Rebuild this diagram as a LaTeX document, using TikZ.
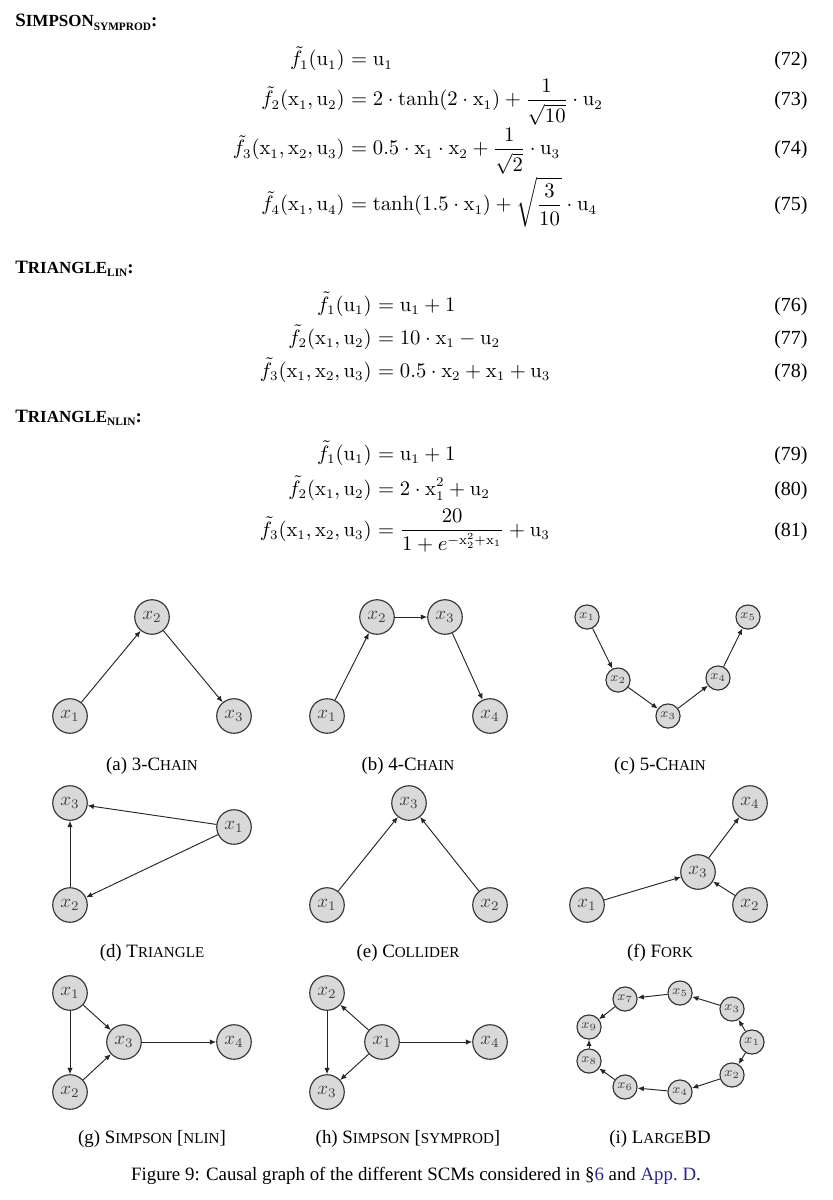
\documentclass[tikz,border=0pt]{standalone}
\usepackage{amsmath}
\usepackage[no-math]{fontspec}
\setmainfont{Liberation Serif}
\usepackage{tikz}
\usetikzlibrary{arrows.meta}
\definecolor{linkblue}{RGB}{40,40,150}
\newcommand{\ru}[1]{\mathrm{u}_{#1}}
\newcommand{\rx}[1]{\mathrm{x}_{#1}}
\newcommand{\fsc}[2]{#1{\footnotesize #2}}
\newcommand{\subsc}[1]{\raisebox{-0.45ex}{\fontsize{6}{7}\selectfont #1}}
% one numbered equation, aligned at the = sign
\newcommand{\eqrow}[6]{%
  \node[eqside, anchor=base east] (#1l) at (#2,#3) {$\displaystyle #4$};
  \node[eqside, anchor=base west] (#1r) at (#2,#3) {$\displaystyle {}= #5$};
  \node[eqside, anchor=base east] (#1n) at (808,#3) {(#6)};}

\begin{document}
\begin{tikzpicture}[
  x=0.53pt, y=-0.53pt,
  var/.style={circle, draw=black!80, fill=gray!30, semithick, minimum size=18.3pt, inner sep=0pt, text=black!75},
  svar/.style={var, minimum size=12.8pt, font=\scriptsize},
  arr/.style={-{Latex[length=3.3pt,width=2.8pt]}, black!85, line width=0.5pt},
  eqside/.style={inner sep=0pt, font=\fontsize{10.6}{12}\selectfont},
  subcap/.style={anchor=base, inner sep=0pt},
  head/.style={anchor=base west, inner sep=0pt, font=\bfseries}
]
\useasboundingbox (0,0) rectangle (832,1200);

% Equations
\node[head] (hsym) at (15,27) {S{\small IMPSON}\subsc{SYMPROD}:};
\eqrow{e72}{345}{66}{\tilde{f}_1(\ru1)}{\ru1}{72}
\eqrow{e73}{345}{106}{\tilde{f}_2(\rx1,\ru2)}{2\cdot\tanh(2\cdot\rx1)+\frac{1}{\sqrt{10}}\cdot\ru2}{73}
\eqrow{e74}{345}{155}{\tilde{f}_3(\rx1,\rx2,\ru3)}{0.5\cdot\rx1\cdot\rx2+\frac{1}{\sqrt{2}}\cdot\ru3}{74}
\eqrow{e75}{345}{211}{\tilde{f}_4(\rx1,\ru4)}{\tanh(1.5\cdot\rx1)+\sqrt{\frac{3}{10}}\cdot\ru4}{75}

\node[head] (hlin) at (15,273) {T{\small RIANGLE}\subsc{LIN}:};
\eqrow{e76}{372}{311}{\tilde{f}_1(\ru1)}{\ru1+1}{76}
\eqrow{e77}{372}{344}{\tilde{f}_2(\rx1,\ru2)}{10\cdot\rx1-\ru2}{77}
\eqrow{e78}{372}{377}{\tilde{f}_3(\rx1,\rx2,\ru3)}{0.5\cdot\rx2+\rx1+\ru3}{78}

\node[head] (hnlin) at (15,422) {T{\small RIANGLE}\subsc{NLIN}:};
\eqrow{e79}{372}{460}{\tilde{f}_1(\ru1)}{\ru1+1}{79}
\eqrow{e80}{372}{495}{\tilde{f}_2(\rx1,\ru2)}{2\cdot\rx1^2+\ru2}{80}
\eqrow{e81}{372}{536}{\tilde{f}_3(\rx1,\rx2,\ru3)}{\frac{20}{1+e^{-\rx2^2+\rx1}}+\ru3}{81}

% (a) 3-Chain
\node[var] (a1) at (70,716) {$x_1$};
\node[var] (a2) at (152,617) {$x_2$};
\node[var] (a3) at (234,716) {$x_3$};
\node[subcap] (capa) at (152,770) {(a) 3-\fsc{C}{HAIN}};

% (b) 4-Chain
\node[var] (b1) at (327,716) {$x_1$};
\node[var] (b2) at (377,617) {$x_2$};
\node[var] (b3) at (445,617) {$x_3$};
\node[var] (b4) at (490,716) {$x_4$};
\node[subcap] (capb) at (408,770) {(b) 4-\fsc{C}{HAIN}};

% (c) 5-Chain
\node[svar] (c1) at (587,617) {$x_1$};
\node[svar] (c2) at (618,680) {$x_2$};
\node[svar] (c3) at (668,716) {$x_3$};
\node[svar] (c4) at (718,678) {$x_4$};
\node[svar] (c5) at (748,617) {$x_5$};
\node[subcap] (capc) at (660,770) {(c) 5-\fsc{C}{HAIN}};

% (d) Triangle
\node[var] (d1) at (234,827) {$x_1$};
\node[var] (d2) at (70,905) {$x_2$};
\node[var] (d3) at (70,803) {$x_3$};
\node[subcap] (capd) at (152,957) {(d) \fsc{T}{RIANGLE}};

% (e) Collider
\node[var] (e1) at (327,905) {$x_1$};
\node[var] (e2) at (490,905) {$x_2$};
\node[var] (e3) at (409,803) {$x_3$};
\node[subcap] (cape) at (408,957) {(e) \fsc{C}{OLLIDER}};

% (f) Fork
\node[var] (f1) at (587,905) {$x_1$};
\node[var] (f2) at (750,905) {$x_2$};
\node[var] (f3) at (698,872) {$x_3$};
\node[var] (f4) at (750,803) {$x_4$};
\node[subcap] (capf) at (660,957) {(f) \fsc{F}{ORK}};

% (g) Simpson nlin
\node[var] (g1) at (70,993) {$x_1$};
\node[var] (g2) at (70,1092) {$x_2$};
\node[var] (g3) at (124,1042) {$x_3$};
\node[var] (g4) at (234,1042) {$x_4$};
\node[subcap] (capg) at (152,1143) {(g) \fsc{S}{IMPSON} [{\footnotesize NLIN}]};

% (h) Simpson symprod
\node[var] (h1) at (382,1042) {$x_1$};
\node[var] (h2) at (327,993) {$x_2$};
\node[var] (h3) at (327,1092) {$x_3$};
\node[var] (h4) at (490,1042) {$x_4$};
\node[subcap] (caph) at (408,1143) {(h) \fsc{S}{IMPSON} [{\footnotesize SYMPROD}]};

% (i) LargeBD
\node[svar] (i1) at (752,1042) {$x_1$};
\node[svar] (i2) at (732,1075) {$x_2$};
\node[svar] (i3) at (732,1009) {$x_3$};
\node[svar] (i4) at (680,1092) {$x_4$};
\node[svar] (i5) at (680,993) {$x_5$};
\node[svar] (i6) at (625,1087) {$x_6$};
\node[svar] (i7) at (625,999) {$x_7$};
\node[svar] (i8) at (589,1061) {$x_8$};
\node[svar] (i9) at (589,1027) {$x_9$};
\node[subcap] (capi) at (660,1143) {(i) \fsc{L}{ARGE}BD};

% Edges
\foreach \s/\t in {a1/a2, a2/a3, b1/b2, b2/b3, b3/b4, c1/c2, c2/c3, c3/c4, c4/c5,
  d1/d3, d1/d2, d2/d3, e1/e3, e2/e3, f1/f3, f2/f3, f3/f4,
  g1/g3, g1/g2, g2/g3, g3/g4, h1/h2, h1/h3, h2/h3, h1/h4,
  i1/i3, i3/i5, i5/i7, i7/i9, i1/i2, i2/i4, i4/i6, i6/i8, i8/i9}
  \draw[arr] (\s) -- (\t);

% Figure caption
\node[subcap] (fig) at (416,1180) {Figure 9: Causal graph of the different SCMs considered in \S\textcolor{linkblue}{6} and \textcolor{linkblue}{App.~D}.};

\end{tikzpicture}
\end{document}
